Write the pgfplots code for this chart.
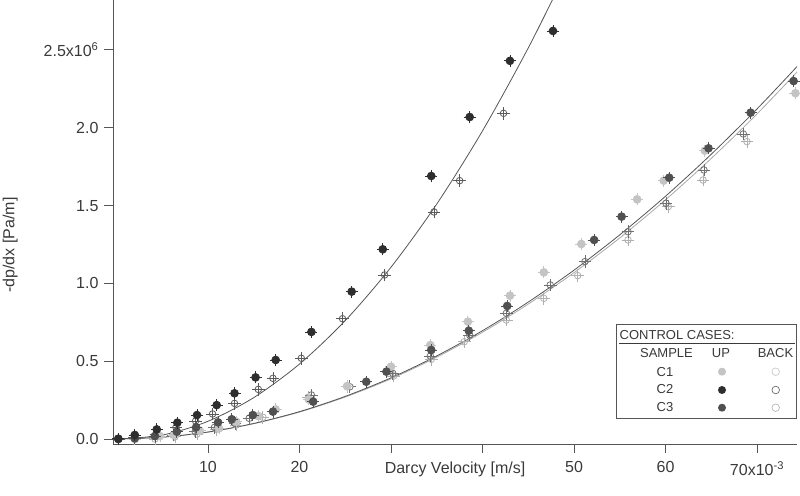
\documentclass[border=0pt]{standalone}
\usepackage{fontspec}
\setmainfont{Liberation Sans}
\usepackage{pgfplots}
\pgfplotsset{compat=1.18}

\definecolor{axgray}{HTML}{555555}
\definecolor{txt}{HTML}{3A3A3A}
\definecolor{c1up}{HTML}{C4C4C4}
\definecolor{c2up}{HTML}{2E2E2E}
\definecolor{c3up}{HTML}{505050}
\definecolor{c1bk}{HTML}{B0B0B0}
\definecolor{c2bk}{HTML}{5A5A5A}
\definecolor{c3bk}{HTML}{707070}
\definecolor{fitdark}{HTML}{555555}
\definecolor{fitlight}{HTML}{A8A8A8}

% filled dot with a cross through it (UP)
\pgfdeclareplotmark{upmark}{%
  \pgfpathcircle{\pgfpointorigin}{0.65\pgfplotmarksize}\pgfusepathqfillstroke
  \pgfpathmoveto{\pgfqpoint{-\pgfplotmarksize}{0pt}}\pgfpathlineto{\pgfqpoint{\pgfplotmarksize}{0pt}}%
  \pgfpathmoveto{\pgfqpoint{0pt}{-\pgfplotmarksize}}\pgfpathlineto{\pgfqpoint{0pt}{\pgfplotmarksize}}%
  \pgfusepathqstroke}
% open circle with a cross (BACK)
\pgfdeclareplotmark{backmark}{%
  \pgfpathcircle{\pgfpointorigin}{0.55\pgfplotmarksize}\pgfusepathqstroke
  \pgfpathmoveto{\pgfqpoint{-1.05\pgfplotmarksize}{0pt}}\pgfpathlineto{\pgfqpoint{1.05\pgfplotmarksize}{0pt}}%
  \pgfpathmoveto{\pgfqpoint{0pt}{-1.05\pgfplotmarksize}}\pgfpathlineto{\pgfqpoint{0pt}{1.05\pgfplotmarksize}}%
  \pgfusepathqstroke}

\pgfplotsset{
  up/.style={only marks, mark=upmark, mark size=6pt, line width=0.8pt, color=#1, fill=#1},
  back/.style={only marks, mark=backmark, mark size=6pt, line width=0.8pt, color=#1},
}

\begin{document}
\begin{tikzpicture}
\path[use as bounding box] (0pt,0pt) rectangle (800pt,495pt);
\begin{axis}[
  at={(113pt,51pt)}, anchor=south west,
  scale only axis, width=684pt, height=444pt,
  xmin=-0.38, xmax=74.37, ymin=-0.032, ymax=2.821,
  axis x line*=bottom, axis y line*=left,
  axis line style={axgray, line width=0.9pt},
  tick style={axgray, line width=0.9pt},
  tick align=outside, major tick length=9pt,
  xtick={10,20,30,40,50,60,70},
  xticklabels={10,20,{},{},50,60,{70x10\textsuperscript{-3}}},
  ytick={0,0.5,1.0,1.5,2.0,2.5},
  yticklabels={0.0,0.5,1.0,1.5,2.0,{2.5x10\textsuperscript{6}}},
  ticklabel style={font=\fontsize{16}{19}\selectfont, text=txt},
  xticklabel style={yshift=-5pt},
  yticklabel style={xshift=-2pt},
  xlabel={Darcy Velocity [m/s]},
  ylabel={-dp/dx [Pa/m]},
  label style={font=\fontsize{16}{19}\selectfont, text=txt},
  xlabel style={at={(axis description cs:0.5,-0.0664)}, anchor=base},
  ylabel style={at={(axis description cs:-0.139,0.448)}, anchor=south, inner sep=0pt},
  clip=true,
]
% fit curves
\addplot[fitlight, line width=0.8pt, smooth] coordinates {
  (0,0)(5,0.0116)(10,0.044)(15,0.0985)(20,0.173)(25,0.270)(30,0.387)(35,0.526)
  (40,0.686)(45,0.867)(50,1.069)(55,1.292)(60,1.537)(65,1.803)(70,2.089)(74.4,2.36)};
\addplot[fitdark, line width=0.8pt, smooth] coordinates {
  (0,0)(5,0.0118)(10,0.045)(15,0.100)(20,0.176)(25,0.274)(30,0.393)(35,0.534)
  (40,0.696)(45,0.880)(50,1.085)(55,1.312)(60,1.560)(65,1.830)(70,2.121)(74.4,2.395)};
\addplot[fitdark, line width=0.8pt, smooth] coordinates {
  (0,0)(5,0.0253)(10,0.114)(15,0.266)(20,0.482)(25,0.761)(30,1.104)(35,1.510)
  (40,1.980)(45,2.513)(49,2.985)};

% BACK
\addplot[back=c1bk] coordinates {
  (4.2,0.0)(6.4,0.015)(8.8,0.032)(10.9,0.062)(13.1,0.09)(16.0,0.14)(21.0,0.27)
  (25.2,0.336)(30.3,0.405)(34.4,0.512)(38.0,0.625)(42.6,0.765)(46.7,0.904)(50.4,1.05)
  (55.9,1.279)(60.3,1.493)(64.1,1.664)(68.9,1.911)};
\addplot[back=c3bk] coordinates {
  (2.0,0.005)(4.2,0.015)(6.2,0.026)(8.6,0.047)(10.7,0.075)(12.95,0.1)(14.5,0.133)
  (21.3,0.283)(25.5,0.336)(30.2,0.422)(34.3,0.533)(38.6,0.668)(42.6,0.808)(47.4,0.99)
  (51.2,1.14)(55.9,1.332)(60.05,1.515)(64.2,1.729)(68.5,1.96)};
\addplot[back=c2bk] coordinates {
  (0.2,0.0)(2.0,0.008)(4.3,0.03)(6.5,0.075)(8.65,0.116)(10.5,0.161)(12.9,0.229)
  (15.5,0.319)(17.1,0.39)(20.2,0.519)(24.7,0.773)(29.3,1.054)(34.7,1.459)(37.5,1.66)
  (42.3,2.093)};

% UP
\addplot[up=c1up] coordinates {
  (0.2,0.0)(2.0,0.0)(4.75,0.019)(6.3,0.025)(9.1,0.053)(11.2,0.068)(13.1,0.111)
  (15.5,0.148)(17.4,0.19)(21.0,0.255)(25.2,0.34)(30.0,0.465)(34.3,0.604)(38.4,0.754)
  (43.0,0.921)(46.7,1.071)(50.8,1.253)(56.9,1.54)(59.8,1.66)(64.3,1.853)(74.2,2.222)};
\addplot[up=c3up] coordinates {
  (0.2,0.0)(2.0,0.004)(4.2,0.019)(6.6,0.047)(8.7,0.075)(11.1,0.107)(12.6,0.127)
  (14.9,0.154)(17.1,0.176)(21.5,0.24)(27.3,0.368)(29.5,0.433)(34.4,0.572)(38.5,0.696)
  (42.7,0.855)(52.2,1.279)(55.2,1.429)(60.4,1.679)(64.7,1.868)(69.3,2.097)(74.0,2.30)};
\addplot[up=c2up] coordinates {
  (0.2,0.002)(2.0,0.026)(4.4,0.062)(6.65,0.105)(8.8,0.154)(10.95,0.218)(12.9,0.294)
  (15.2,0.396)(17.4,0.508)(21.3,0.688)(25.7,0.947)(29.1,1.219)(34.4,1.69)(38.6,2.069)
  (43.0,2.43)(47.7,2.622)};
\end{axis}

% legend box
\begin{scope}[font=\fontsize{13}{15}\selectfont, text=txt]
\fill[white] (616.5pt,76.5pt) rectangle (796.5pt,170pt);
\draw[axgray, line width=1pt] (616.5pt,76.5pt) rectangle (796.5pt,170pt);
\node[anchor=base west, inner sep=0pt] at (619.5pt,155pt) {CONTROL CASES:};
\draw[txt, line width=0.7pt] (619pt,152pt) -- (795pt,152pt);
\node[anchor=base, inner sep=0pt] at (666.5pt,137.3pt) {SAMPLE};
\node[anchor=base, inner sep=0pt] at (721pt,137.3pt) {UP};
\node[anchor=base, inner sep=0pt] at (775.5pt,137.3pt) {BACK};
\node[anchor=base, inner sep=0pt] at (665pt,118.3pt) {C1};
\node[anchor=base, inner sep=0pt] at (665pt,101pt) {C2};
\node[anchor=base, inner sep=0pt] at (665pt,83.3pt) {C3};
\fill[c1up] (722pt,123.3pt) circle (4pt);
\fill[c2up] (722pt,105pt) circle (4pt);
\fill[c3up] (722pt,87.3pt) circle (4pt);
\draw[c1up, line width=0.6pt] (775.7pt,123.3pt) circle (3.8pt);
\draw[c2bk, line width=0.6pt] (775.7pt,105pt) circle (3.8pt);
\draw[c1bk, line width=0.6pt] (775.7pt,87.3pt) circle (3.8pt);
\end{scope}
\end{tikzpicture}
\end{document}
